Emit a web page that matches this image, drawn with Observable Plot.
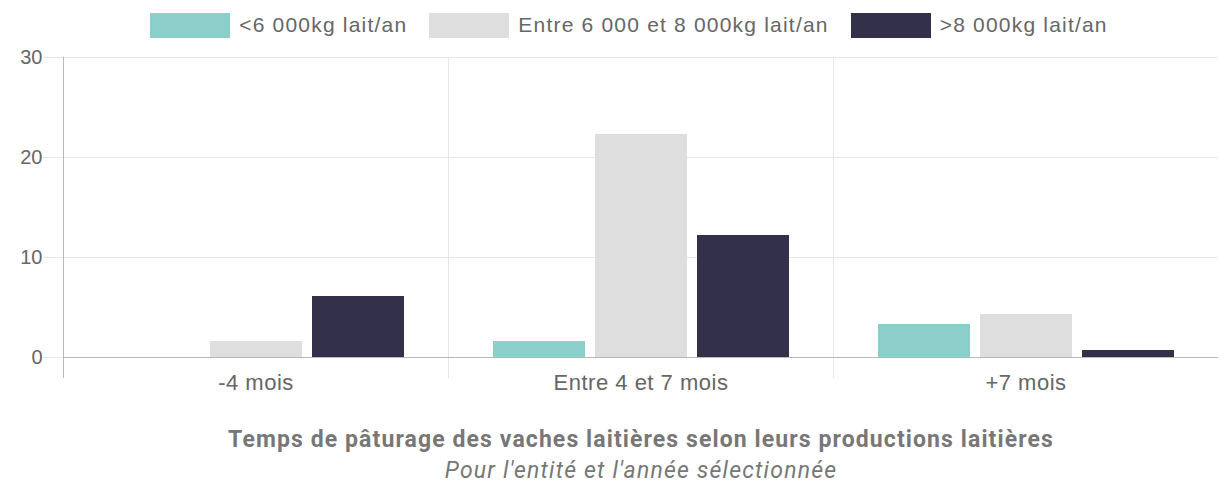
<!DOCTYPE html>
<html>
<head>
<meta charset="utf-8">
<script src="https://cdn.jsdelivr.net/npm/d3@7"></script>
<script src="https://cdn.jsdelivr.net/npm/@observablehq/plot@0.6"></script>
<style>
  html, body { margin: 0; padding: 0; background: #fff; }
  #wrap { width: 1219px; height: 487px; position: relative; overflow: hidden; }
  #legend { height: 42px; display: flex; justify-content: center; align-items: center; padding-left: 39px;
            font-family: "Liberation Sans", Arial, sans-serif; font-size: 21px; letter-spacing: 1.2px; color: #666; box-sizing: border-box; padding-top: 8px; white-space: nowrap; }
  .item { display: flex; align-items: center; margin: 0 11px; }
  .sw { width: 80px; height: 25px; margin-right: 9px; box-sizing: border-box; }
  #chart svg { display: block; overflow: visible; }
  #titles { padding-left: 63px; text-align: center; font-family: Roboto, sans-serif; color: #777; white-space: nowrap; }
  #title { font-weight: bold; font-size: 23px; letter-spacing: 1.1px; margin-top: 24px; line-height: 28px; }
  #subtitle { font-style: italic; font-size: 23px; letter-spacing: 1.2px; margin-top: 3px; line-height: 28px; }
</style>
</head>
<body>
<div id="wrap">
  <div id="legend"></div>
  <div id="chart"></div>
  <div id="titles">
    <div id="title">Temps de pâturage des vaches laitières selon leurs productions laitières</div>
    <div id="subtitle">Pour l'entité et l'année sélectionnée</div>
  </div>
</div>
<script>
const categories = ["-4 mois", "Entre 4 et 7 mois", "+7 mois"];
const series = ["<6 000kg lait/an", "Entre 6 000 et 8 000kg lait/an", ">8 000kg lait/an"];
const colors = ["#8ccfca", "#dedede", "#333049"];
const valuesLow = [0, 1.6, 3.3];
const valuesMid = [1.6, 22.3, 4.3];
const valuesHigh = [6.1, 12.2, 0.7];
const yTicks = [0, 10, 20, 30];

const seriesValues = [valuesLow, valuesMid, valuesHigh];
const data = categories.flatMap((c, i) => series.map((s, j) => ({cat: c, serie: s, value: seriesValues[j][i]})));

// Legend
const legend = d3.select("#legend");
series.forEach((s, j) => {
  const it = legend.append("div").attr("class", "item");
  it.append("div").attr("class", "sw").style("background", colors[j]);
  it.append("span").text(s);
});

const chart = Plot.plot({
  width: 1219,
  height: 360,
  marginLeft: 63,
  marginRight: 1,
  marginTop: 15,
  marginBottom: 45,
  style: {fontFamily: "'Liberation Sans', Arial, sans-serif", fontSize: "20px", color: "#666", background: "transparent"},
  fx: {domain: categories, padding: 0, label: null},
  x: {domain: series, paddingInner: 0.1, paddingOuter: 0.425, axis: null},
  y: {domain: [0, 30], label: null},
  color: {domain: series, range: colors},
  marks: [
    Plot.gridY({ticks: yTicks, stroke: "#e6e6e6", strokeOpacity: 1}),
    Plot.frame({anchor: "left", stroke: "#e6e6e6", insetBottom: -20}),
    Plot.frame({anchor: "left", facetAnchor: "left", stroke: "#b8b8b8", insetBottom: -20}),
    Plot.barY(data, {fx: "cat", x: "serie", y: "value", fill: "serie"}),
    Plot.ruleY([0], {stroke: "#b8b8b8"}),
    Plot.axisY({ticks: yTicks, tickSize: 20, tickPadding: 1, stroke: "#e6e6e6", color: "#666", fontSize: 20, label: null}),
    Plot.axisFx({anchor: "bottom", tickSize: 0, tickPadding: 17, color: "#666", fontSize: 22, label: null})
  ]
});
d3.select(chart).selectAll("g[aria-label='fx-axis tick label'] text").style("letter-spacing", "0.5px");
document.getElementById("chart").appendChild(chart);
</script>
</body>
</html>
